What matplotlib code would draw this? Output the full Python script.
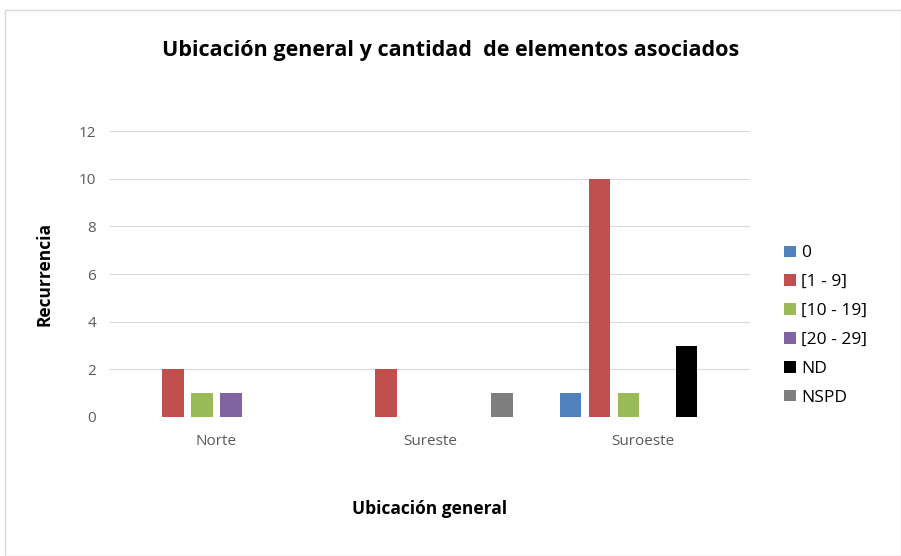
import matplotlib
matplotlib.use('Agg')
import matplotlib.pyplot as plt
import numpy as np

categories = ['Norte', 'Sureste', 'Suroeste']
series = ['0', '[1 - 9]', '[10 - 19]', '[20 - 29]', 'ND', 'NSPD']
values = [
    [0, 0, 1],    # 0
    [2, 2, 10],   # [1 - 9]
    [1, 0, 1],    # [10 - 19]
    [1, 0, 0],    # [20 - 29]
    [0, 0, 3],    # ND
    [0, 1, 0],    # NSPD
]
colors = ['#4F81BD', '#C0504D', '#9BBB59', '#8064A2', '#000000', '#7F7F7F']

plt.rcParams['font.family'] = ['Open Sans', 'DejaVu Sans']

fig = plt.figure(figsize=(9.01, 5.56), dpi=100)
ax = fig.add_axes([0.122, 0.25, 0.71, 0.514])

x = np.arange(len(categories))
step = 0.136
width = 0.103
for i, (name, vals) in enumerate(zip(series, values)):
    ax.bar(x + (i - 2.5) * step, vals, width, color=colors[i], label=name, zorder=3)

ax.set_xlim(-0.5, 2.5)
ax.set_ylim(0, 12)
ax.set_yticks(range(0, 13, 2))
ax.set_xticks(x)
ax.set_xticklabels(categories)
ax.grid(axis='y', color='#D9D9D9', linewidth=0.8, zorder=0)
for s in ax.spines.values():
    s.set_visible(False)
ax.tick_params(length=0, colors='#595959', labelsize=11, pad=10)
ax.tick_params(axis='x', pad=12)

ax.set_xlabel('Ubicación general', fontsize=12.5, fontweight='bold', labelpad=37)
ax.set_ylabel('Recurrencia', fontsize=12.5, fontweight='bold', labelpad=18)

fig.text(0.5, 0.91, 'Ubicación general y cantidad  de elementos asociados',
         ha='center', va='center', fontsize=15.5, fontweight='bold')

ax.legend(loc='center left', bbox_to_anchor=(1.03, 0.32), frameon=False,
          fontsize=12.5, handlelength=0.65, handleheight=0.65, handletextpad=0.3,
          labelspacing=0.74)

border = plt.Rectangle((0.006, 0.0), 0.994, 0.982, transform=fig.transFigure,
                       fill=False, edgecolor='#D9D9D9', linewidth=1)
fig.patches.append(border)

fig.savefig('out.png', dpi=100)
